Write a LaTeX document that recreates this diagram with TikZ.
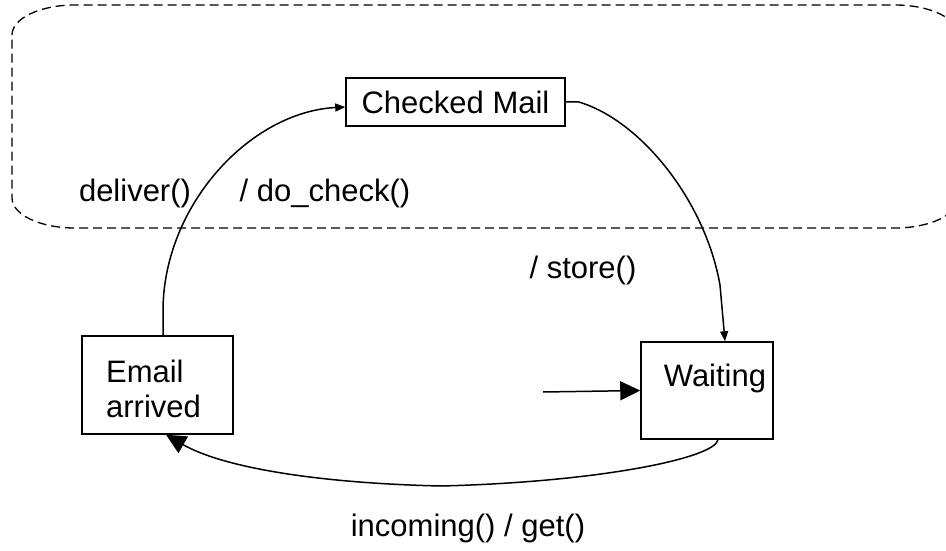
\documentclass[tikz,border=0pt]{standalone}
\usepackage{fontspec}
\setmainfont{Liberation Sans}
\usetikzlibrary{arrows.meta}
\begin{document}
\begin{tikzpicture}[x=1pt,y=-1pt,
  txt/.style={font=\fontsize{31}{35}\selectfont, inner sep=0pt},
  statebox/.style={draw, line width=1.5pt, inner sep=0pt, font=\fontsize{31}{35}\selectfont},
  conn/.style={line width=1.5pt},
  smalltip/.style={-{Triangle[length=10pt,width=8pt]}},
  bigtip/.style={-{Triangle[length=20pt,width=19pt]}},
  region/.style={line width=1.3pt, dash pattern=on 9pt off 5pt}]
\useasboundingbox (0,0) rectangle (946,551);
% dashed region
\draw[region] (12,35) .. controls (12,18.4) and (40,5) .. (75,5) -- (895,5)
  .. controls (930,5) and (958,18.4) .. (958,35) -- (958,198)
  .. controls (958,214.6) and (930,228) .. (895,228) -- (75,228)
  .. controls (40,228) and (12,214.6) .. (12,198) -- cycle;
% states
\node[statebox, minimum width=219pt, minimum height=48pt] (cm) at (455.5,102) {Checked Mail};
\node[statebox, minimum width=132pt, minimum height=97pt,
  label={[txt, xshift=8pt, yshift=12pt]center:Waiting}] (w) at (707,390.5) {};
\node[statebox, minimum width=151pt, minimum height=98pt,
  label={[txt, align=left, xshift=-4pt, yshift=-4pt]center:Email\\arrived}] (ea) at (157.5,385) {};
\coordinate (init) at (543,392);
% transitions
\draw[conn, smalltip] ([xshift=5.5pt]ea.north) -- ++(0,-26)
  .. controls (164,205) and (250,112) .. ([yshift=-5pt]cm.west);
\draw[conn, smalltip] (cm.east) -- ++(13,0)
  .. controls (640,120) and (705,200) .. (720,285) -- ([xshift=18pt]w.north);
\draw[conn, bigtip] ([xshift=11pt]w.south) .. controls (715,458) and (600,482) .. (441,486)
  .. controls (310,483) and (220,466) .. ([xshift=8.5pt]ea.south);
\draw[conn, bigtip] (init) -- (w.west);
% labels
\node[txt] (l1) at (135,193) {deliver()};
\node[txt] (l2) at (325,193) {/ do\_check()};
\node[txt] (l3) at (583,270) {/ store()};
\node[txt] (l4) at (468,528) {incoming() / get()};
\end{tikzpicture}
\end{document}
